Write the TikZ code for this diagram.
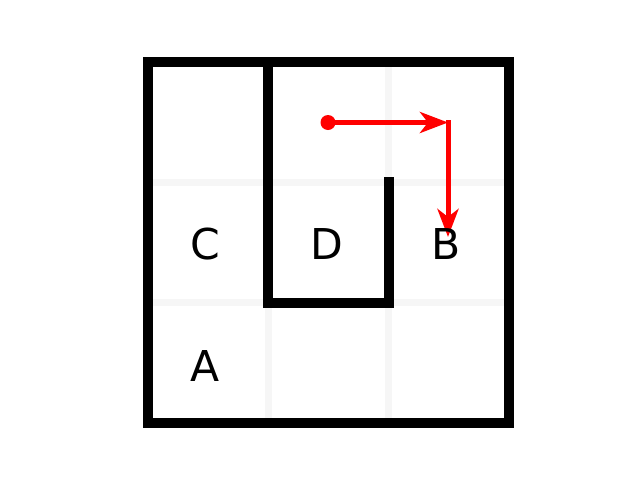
\documentclass[tikz,border=0pt]{standalone}
\usepackage{fontspec}
\setmainfont{DejaVu Sans}
\usetikzlibrary{arrows.meta}
\begin{document}
\begin{tikzpicture}[x=1pt,y=-1pt,
  gridline/.style={line width=7pt,color=gray!7},
  wall/.style={line width=10pt,color=black},
  redpath/.style={line width=5pt,color=red,-{Stealth[length=28pt 0,width=21pt 0,inset=8pt 0]}},
  lbl/.style={font=\fontsize{42.5}{50}\selectfont,inner sep=0pt,anchor=base}]
\useasboundingbox (0,0) rectangle (640,480);
% light grid
\draw[gridline] (147.5,182) -- (509,182);
\draw[gridline] (147.5,302.5) -- (509,302.5);
\draw[gridline] (268,61.5) -- (268,423);
\draw[gridline] (388.5,61.5) -- (388.5,423);
% walls
\draw[wall,line join=miter] (147.5,61.5) rectangle (509,423);
\draw[wall,line join=miter,line cap=rect] (268,61.5) -- (268,302.5) -- (388.5,302.5) -- (388.5,182);
% red path
\coordinate (start) at (328,122.5);
\coordinate (corner) at (448,122.5);
\coordinate (corner2) at (448,120);
\coordinate (goal) at (448,237);
\fill[red] (start) circle (7.5);
\draw[redpath] (start) -- (corner);
\draw[redpath] (corner2) -- (goal);
% labels
\node[lbl] (C) at (205,259.5) {C};
\node[lbl] (D) at (327,259.5) {D};
\node[lbl] (B) at (446,259.5) {B};
\node[lbl] (A) at (205,381) {A};
\end{tikzpicture}
\end{document}
